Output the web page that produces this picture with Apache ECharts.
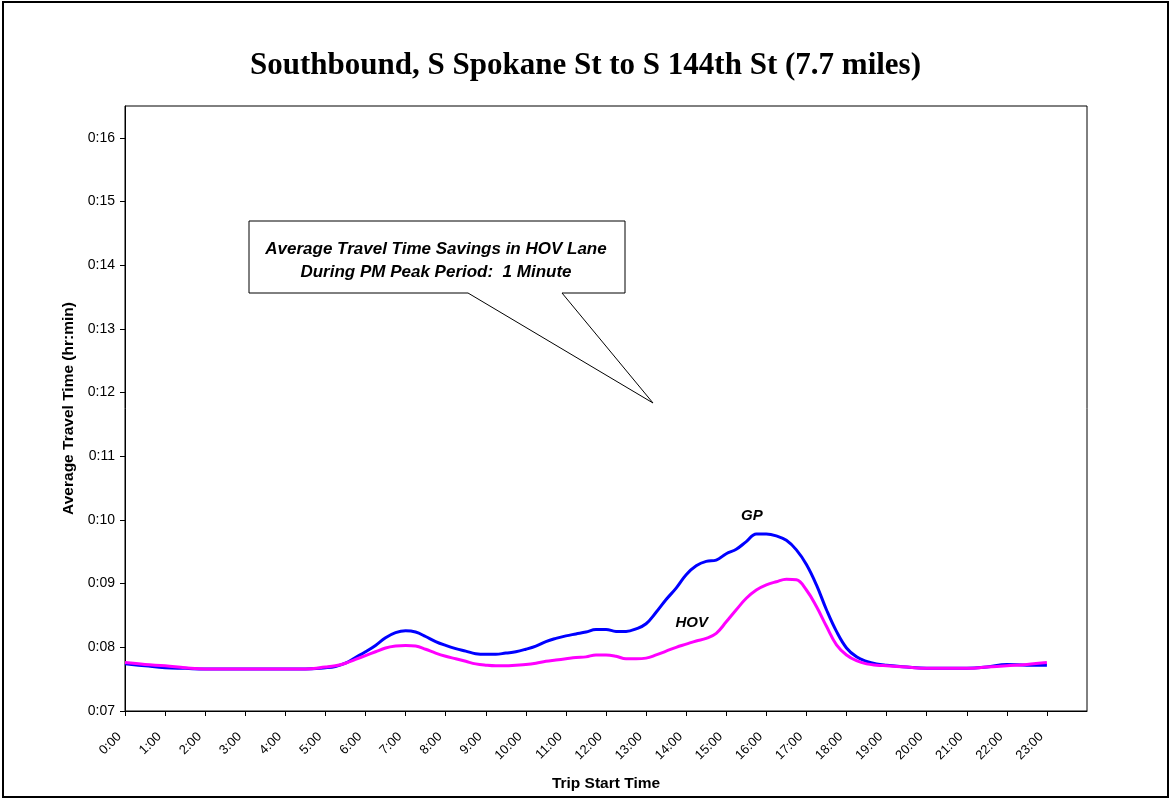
<!DOCTYPE html>
<html>
<head>
<meta charset="utf-8">
<script src="https://cdn.jsdelivr.net/npm/echarts@6/dist/echarts.min.js"></script>
<style>
  html, body { margin: 0; padding: 0; background: #fff; }
  #chart { width: 1171px; height: 799px; }
</style>
</head>
<body>
<div id="chart"></div>
<script>
// Trip start time, in hours after midnight
const tripStartHours = [
  0, 0.5, 1, 1.5, 2, 2.5, 3, 3.5, 4, 4.5,
  5, 5.25, 5.5, 5.75, 6, 6.25, 6.5, 6.75, 7, 7.25, 7.5, 7.75,
  8, 8.25, 8.5, 8.75, 9, 9.25, 9.5, 9.75, 10, 10.25, 10.5, 10.75,
  11, 11.25, 11.5, 11.75, 12, 12.25, 12.5, 12.75, 13, 13.25, 13.5, 13.75,
  14, 14.25, 14.5, 14.75, 15, 15.25, 15.5, 15.75, 16, 16.25, 16.5, 16.75,
  17, 17.25, 17.5, 17.75, 18, 18.25, 18.5, 18.75,
  19, 19.5, 20, 20.5, 21, 21.5, 22, 22.5, 23
];

// Average travel time, general purpose lanes (minutes)
const gpMinutes = [
  7.74, 7.71, 7.68, 7.67, 7.66, 7.66, 7.66, 7.66, 7.66, 7.66,
  7.68, 7.70, 7.75, 7.84, 7.93, 8.03, 8.15, 8.23, 8.26, 8.24, 8.17, 8.09,
  8.03, 7.98, 7.94, 7.90, 7.89, 7.89, 7.91, 7.93, 7.97, 8.02, 8.09, 8.14,
  8.18, 8.21, 8.24, 8.28, 8.28, 8.25, 8.25, 8.29, 8.37, 8.55, 8.75, 8.93,
  9.14, 9.28, 9.35, 9.37, 9.47, 9.54, 9.66, 9.78, 9.78, 9.75, 9.68, 9.53,
  9.30, 8.98, 8.59, 8.25, 7.99, 7.85, 7.78, 7.74,
  7.72, 7.69, 7.67, 7.67, 7.67, 7.69, 7.73, 7.72, 7.72
];

// Average travel time, HOV lane (minutes)
const hovMinutes = [
  7.76, 7.73, 7.71, 7.68, 7.66, 7.66, 7.66, 7.66, 7.66, 7.66,
  7.69, 7.71, 7.75, 7.81, 7.87, 7.93, 7.99, 8.02, 8.03, 8.02, 7.97, 7.91,
  7.86, 7.82, 7.78, 7.74, 7.72, 7.71, 7.71, 7.72, 7.73, 7.75, 7.78, 7.80,
  7.82, 7.84, 7.85, 7.88, 7.88, 7.86, 7.82, 7.82, 7.83, 7.88, 7.94, 8.00,
  8.05, 8.10, 8.14, 8.22, 8.40, 8.59, 8.77, 8.90, 8.98, 9.03, 9.07, 9.06,
  8.90, 8.64, 8.33, 8.04, 7.88, 7.79, 7.74, 7.72,
  7.71, 7.69, 7.67, 7.67, 7.67, 7.69, 7.71, 7.73, 7.76
];

// Where the series name labels sit, in [hour, minutes]
const gpLabelAt = [15.64, 10.06];
const hovLabelAt = [14.14, 8.39];

const titleText = 'Southbound, S Spokane St to S 144th St (7.7 miles)';
const calloutLines = ['Average Travel Time Savings in HOV Lane', 'During PM Peak Period:  1 Minute'];

const SANS = '"Liberation Sans", Arial, sans-serif';
const SERIF = '"Liberation Serif", "Times New Roman", serif';

const pad2 = n => (n < 10 ? '0' : '') + n;
const pairs = vals => tripStartHours.map((h, i) => [h, vals[i]]);

const chart = echarts.init(document.getElementById('chart'), null, { renderer: 'canvas' });

const seriesLabel = (name, coord) => ({
  silent: true,
  symbol: 'circle',
  symbolSize: 0,
  data: [{ coord: coord, value: name }],
  label: {
    show: true,
    position: 'inside',
    formatter: name,
    color: '#000',
    fontFamily: SANS,
    fontSize: 15,
    fontWeight: 'bold',
    fontStyle: 'italic'
  }
});

chart.setOption({
  animation: false,
  backgroundColor: '#fff',
  title: {
    text: titleText,
    left: 'center',
    top: 45,
    textStyle: { fontFamily: SERIF, fontSize: 31, fontWeight: 'bold', color: '#000' }
  },
  grid: {
    left: 125, top: 106, right: 84, bottom: 88,
    show: true, borderColor: '#000', borderWidth: 1, backgroundColor: '#fff'
  },
  xAxis: {
    type: 'value',
    min: 0, max: 24, interval: 1,
    name: 'Trip Start Time',
    nameLocation: 'middle',
    nameGap: 65,
    nameTextStyle: { fontFamily: SANS, fontSize: 15.5, fontWeight: 'bold', color: '#000' },
    axisLine: { show: true, onZero: false, lineStyle: { color: '#000', width: 1 } },
    axisTick: { show: true, inside: false, length: 5, lineStyle: { color: '#000' } },
    splitLine: { show: false },
    axisLabel: {
      rotate: 45,
      margin: 18,
      padding: [0, 8, 0, 0],
      showMaxLabel: false,
      fontFamily: SANS, fontSize: 13, color: '#000',
      formatter: v => Math.round(v) + ':00'
    }
  },
  yAxis: {
    type: 'value',
    min: 7, max: 16.5, interval: 1,
    name: 'Average Travel Time (hr:min)',
    nameLocation: 'middle',
    nameGap: 47,
    nameTextStyle: { fontFamily: SANS, fontSize: 15.5, fontWeight: 'bold', color: '#000' },
    axisLine: { show: true, lineStyle: { color: '#000', width: 1 } },
    axisTick: { show: true, length: 5, lineStyle: { color: '#000' } },
    splitLine: { show: false },
    axisLabel: {
      margin: 10,
      showMaxLabel: false,
      fontFamily: SANS, fontSize: 14, color: '#000',
      formatter: v => '0:' + pad2(Math.round(v))
    }
  },
  series: [
    {
      name: 'GP',
      type: 'line',
      data: pairs(gpMinutes),
      smooth: 0.4,
      showSymbol: false,
      lineStyle: { color: '#0000ff', width: 3 },
      itemStyle: { color: '#0000ff' },
      markPoint: seriesLabel('GP', gpLabelAt),
      z: 2
    },
    {
      name: 'HOV',
      type: 'line',
      data: pairs(hovMinutes),
      smooth: 0.4,
      showSymbol: false,
      lineStyle: { color: '#ff00ff', width: 3 },
      itemStyle: { color: '#ff00ff' },
      markPoint: seriesLabel('HOV', hovLabelAt),
      z: 3
    }
  ],
  graphic: [
    {
      // frame round the whole figure
      type: 'rect',
      shape: { x: 3, y: 2, width: 1165, height: 795 },
      style: { fill: 'none', stroke: '#000', lineWidth: 2 },
      z: 100
    },
    {
      // callout box with its pointer
      type: 'polygon',
      shape: {
        points: [[249, 221], [625, 221], [625, 293], [562, 293], [653, 403], [468, 293], [249, 293]]
      },
      style: { fill: '#fff', stroke: '#000', lineWidth: 1 },
      z: 50
    },
    {
      type: 'text',
      x: 436, y: 261,
      style: {
        text: calloutLines.join('\n'),
        align: 'center',
        verticalAlign: 'middle',
        lineHeight: 23,
        font: 'italic bold 17px ' + SANS,
        fill: '#000'
      },
      z: 51
    }
  ]
});
</script>
</body>
</html>
